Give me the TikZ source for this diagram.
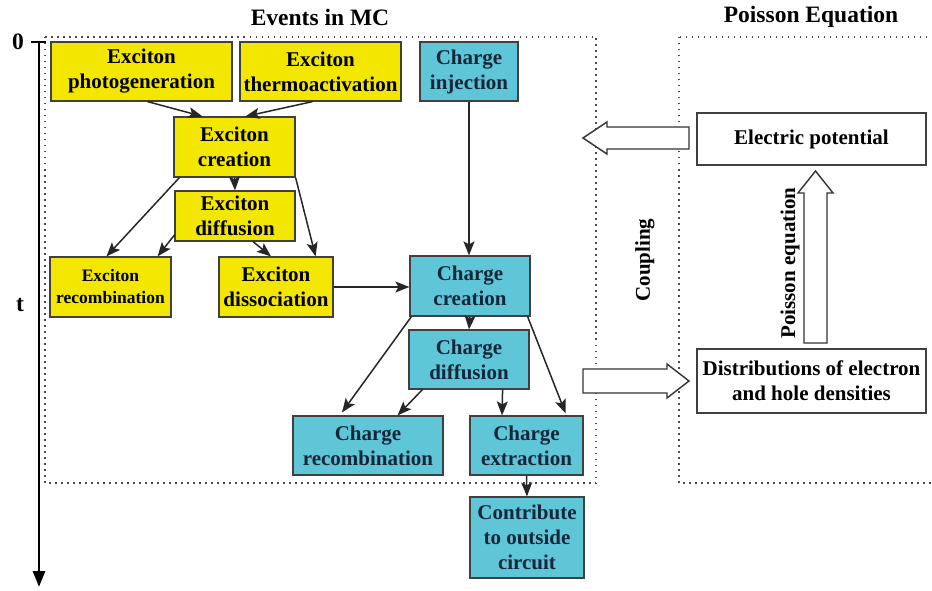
\documentclass[tikz,border=0pt]{standalone}
\usepackage{fontspec}
\setmainfont{Liberation Serif}
\usetikzlibrary{arrows.meta,positioning,calc}
\definecolor{excyellow}{RGB}{243,231,0}
\definecolor{chgcyan}{RGB}{94,198,214}
\definecolor{chgtext}{RGB}{22,38,58}
\tikzstyle{ybox}   = [rectangle, draw=black!75, line width=1.2pt, fill=excyellow, align=center, inner sep=1pt, font=\bfseries\fontsize{21}{25}\selectfont]
\tikzstyle{cbox}   = [ybox, fill=chgcyan, text=chgtext]
\tikzstyle{wbox}   = [ybox, fill=white]
\tikzstyle{arrow}  = [line width=1.5pt, black!85, -{Stealth[length=14pt,width=11pt,inset=3pt]}]
\tikzstyle{hollow} = [draw=black!80, line width=1.4pt, fill=white]
\tikzstyle{frame}  = [line width=1.5pt, dash pattern=on 1.5pt off 4.5pt, black!70]
\tikzstyle{title}  = [font=\bfseries\fontsize{23.5}{27}\selectfont]

\begin{document}
\begin{tikzpicture}[x=1pt,y=-1pt]
        \useasboundingbox (0,0) rectangle (932,591);

        % frames and titles
        \draw[frame] (45,37) rectangle (596,483);
        \draw[frame] (679,37) rectangle (936,483);
        \node[title] (mctitle) at (320,17) {Events in MC};
        \node[title] (poititle) at (811,17) {Poisson Equation};

        % time axis
        \draw[line width=2.8pt, -{Triangle[length=16pt,width=12pt]}] (39,42) -- (39,587);
        \draw[line width=2.4pt] (31,42) -- (46,42);
        \node[title] (zero) at (18,42) {0};
        \node[title] (tlabel) at (20,305) {t};

        % exciton events
        \node[ybox, minimum width=181pt, minimum height=59pt] (photo) at (141.5,71.5) {Exciton\\photogeneration};
        \node[ybox, minimum width=161pt, minimum height=59pt] (thermo) at (320.5,71.5) {Exciton\\thermoactivation};
        \node[ybox, minimum width=121pt, minimum height=60pt] (xcreate) at (234.5,147) {Exciton\\creation};
        \node[ybox, minimum width=120pt, minimum height=50pt] (xdiff) at (235,216) {Exciton\\diffusion};
        \node[ybox, minimum width=121pt, minimum height=60pt, font=\bfseries\fontsize{17.5}{22}\selectfont] (xrecomb) at (110.5,287) {Exciton\\recombination};
        \node[ybox, minimum width=114pt, minimum height=60pt] (xdiss) at (276,287) {Exciton\\dissociation};

        % charge events
        \node[cbox, minimum width=98pt, minimum height=59pt] (inject) at (469,71.5) {Charge\\injection};
        \node[cbox, minimum width=120pt, minimum height=60pt] (ccreate) at (470,286) {Charge\\creation};
        \node[cbox, minimum width=120pt, minimum height=59pt] (cdiff) at (469,359.5) {Charge\\diffusion};
        \node[cbox, minimum width=150pt, minimum height=59pt] (crecomb) at (368,445.5) {Charge\\recombination};
        \node[cbox, minimum width=113pt, minimum height=59pt] (cextr) at (526.5,445.5) {Charge\\extraction};
        \node[cbox, minimum width=114pt, minimum height=81pt] (contrib) at (527,537.5) {Contribute\\to outside\\circuit};

        % poisson side
        \node[wbox, minimum width=229pt, minimum height=52pt] (epot) at (811.5,139) {Electric potential};
        \node[wbox, minimum width=229pt, minimum height=64pt] (dist) at (811.5,381) {Distributions of electron\\and hole densities};
        \node[title, font=\bfseries\fontsize{21}{25}\selectfont, rotate=90] (coupling) at (645,260) {Coupling};
        \node[title, font=\bfseries\fontsize{21}{25}\selectfont, rotate=90] (poieq) at (790,263) {Poisson equation};

        % hollow arrows
        \draw[hollow] (689,127) -- (607,127) -- (607,122) -- (583,138) -- (607,154) -- (607,149) -- (689,149) -- cycle;
        \draw[hollow] (583,369) -- (667,369) -- (667,364) -- (689,381) -- (667,398) -- (667,393) -- (583,393) -- cycle;
        \draw[hollow] (804,343) -- (804,193) -- (798,193) -- (815.5,171) -- (833,193) -- (827,193) -- (827,343) -- cycle;

        % connectors
        \draw[arrow] ([xshift=6pt]photo.south) -- ([xshift=-32pt]xcreate.north);
        \draw[arrow] ([xshift=-8pt]thermo.south) -- ([xshift=11pt]xcreate.north);
        \draw[arrow] (xcreate.south) -- (xdiff.north);
        \draw[arrow] ([xshift=6pt]xcreate.south west) -- ([xshift=-4pt]xrecomb.north);
        \draw[arrow] ([yshift=-19pt]xdiff.west) -- ([xshift=-14pt]xrecomb.north east);
        \draw[arrow] ([xshift=18pt]xdiff.south) -- ([xshift=-5pt]xdiss.north);
        \draw[arrow] (xcreate.south east) -- ([xshift=-18pt]xdiss.north east);
        \draw[arrow] (xdiss.east) -- (xdiss.east -| ccreate.west);
        \draw[arrow] (inject.south) -- (inject.south |- ccreate.north);
        \draw[arrow] (ccreate.south) -- (cdiff.north);
        \draw[arrow] ([xshift=2pt]ccreate.south west) -- ([xshift=-26pt,yshift=3pt]crecomb.north);
        \draw[arrow] ([xshift=14pt]cdiff.south west) -- ([xshift=-46pt]crecomb.north east);
        \draw[arrow] ([xshift=-27pt]cdiff.south east) -- ([xshift=-24.5pt]cextr.north);
        \draw[arrow] ([xshift=-3pt]ccreate.south east) -- ([xshift=-18pt,yshift=2pt]cextr.north east);
        \draw[arrow] (cextr.south) -- (contrib.north);
\end{tikzpicture}
\end{document}
